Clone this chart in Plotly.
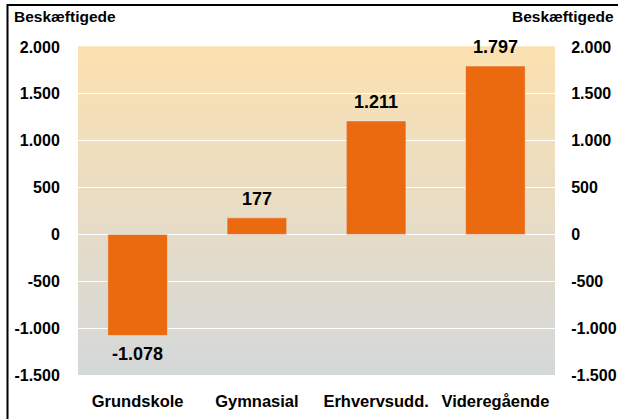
import plotly.graph_objects as go

categories = ["Grundskole", "Gymnasial", "Erhvervsudd.", "Videregående"]
values = [-1078, 177, 1211, 1797]
value_labels = ["-1.078", "177", "1.211", "1.797"]
tick_vals = [-1500, -1000, -500, 0, 500, 1000, 1500, 2000]
tick_labels = ["-1.500", "-1.000", "-500", "0", "500", "1.000", "1.500", "2.000"]
axis_title = "Beskæftigede"

W, H = 618, 419
L, R, T, B = 78, 63, 47, 44
FONT = "Liberation Sans, Arial, sans-serif"
BAR = "#EB6A0F"

fig = go.Figure()
fig.add_trace(go.Bar(x=categories, y=values, marker_color=BAR, width=0.5,
                     hoverinfo="skip"))
fig.add_trace(go.Scatter(x=categories, y=values, yaxis="y2", mode="markers",
                         marker=dict(opacity=0), hoverinfo="skip", showlegend=False))

# gradient background stripes
top = (251, 225, 177)
bot = (213, 216, 217)
n = 82
shapes = []
for i in range(n):
    t = i / (n - 1)
    c = tuple(round(top[k] + (bot[k] - top[k]) * t) for k in range(3))
    shapes.append(dict(type="rect", xref="paper", yref="paper", layer="below",
                       x0=0, x1=1, y0=1 - (i + 1) / n, y1=1 - i / n + 0.002,
                       fillcolor="rgb(%d,%d,%d)" % c, line=dict(width=0)))
pw, ph = W - L - R, H - T - B
shapes.append(dict(type="rect", xref="paper", yref="paper", layer="above",
                   x0=(7.5 - L) / pw, x1=(W + 20 - L) / pw,
                   y0=-(B + 20) / ph, y1=(H - B - 5) / ph,
                   line=dict(color="black", width=2), fillcolor="rgba(0,0,0,0)"))

annotations = []
for c, v, s in zip(categories, values, value_labels):
    annotations.append(dict(x=c, y=v, text="<b>%s</b>" % s, showarrow=False,
                            yanchor="bottom" if v >= 0 else "top",
                            yshift=7 if v >= 0 else -7,
                            font=dict(size=18, color="black", family=FONT)))
annotations.append(dict(xref="paper", yref="paper", x=(12 - L) / pw, y=(H - B - 17) / ph,
                        xanchor="left", yanchor="middle", showarrow=False,
                        text="<b>%s</b>" % axis_title, font=dict(size=15.5, color="black", family=FONT)))
annotations.append(dict(xref="paper", yref="paper", x=(616 - L) / pw, y=(H - B - 17) / ph,
                        xanchor="right", yanchor="middle", showarrow=False,
                        text="<b>%s</b>" % axis_title, font=dict(size=15.5, color="black", family=FONT)))

bold_ticks = ["<b>%s</b>" % s for s in tick_labels]
yax = dict(range=[-1500, 2000], tickvals=tick_vals, ticktext=bold_ticks,
           showgrid=True, gridcolor="white", gridwidth=1, zeroline=False,
           ticks="outside", ticklen=14, tickcolor="rgba(0,0,0,0)", automargin=False,
           tickfont=dict(size=16, color="black", family=FONT), showline=False)
fig.update_layout(
    width=W, height=H, margin=dict(l=L, r=R, t=T, b=B, autoexpand=False),
    paper_bgcolor="white", plot_bgcolor="rgba(0,0,0,0)",
    showlegend=False, bargap=0.5,
    xaxis=dict(tickvals=categories, ticktext=["<b>%s</b>" % c for c in categories],
               tickfont=dict(size=16.5, color="black", family=FONT), automargin=False,
               showgrid=False, zeroline=False, showline=False,
               ticks="outside", ticklen=11, tickcolor="rgba(0,0,0,0)"),
    yaxis=yax,
    yaxis2=dict(yax, overlaying="y", side="right", showgrid=False, ticklen=12),
    shapes=shapes, annotations=annotations,
)
fig.write_html("out.html", config={"displayModeBar": False},
               post_script="document.body.style.margin='0';document.body.style.padding='0';")
